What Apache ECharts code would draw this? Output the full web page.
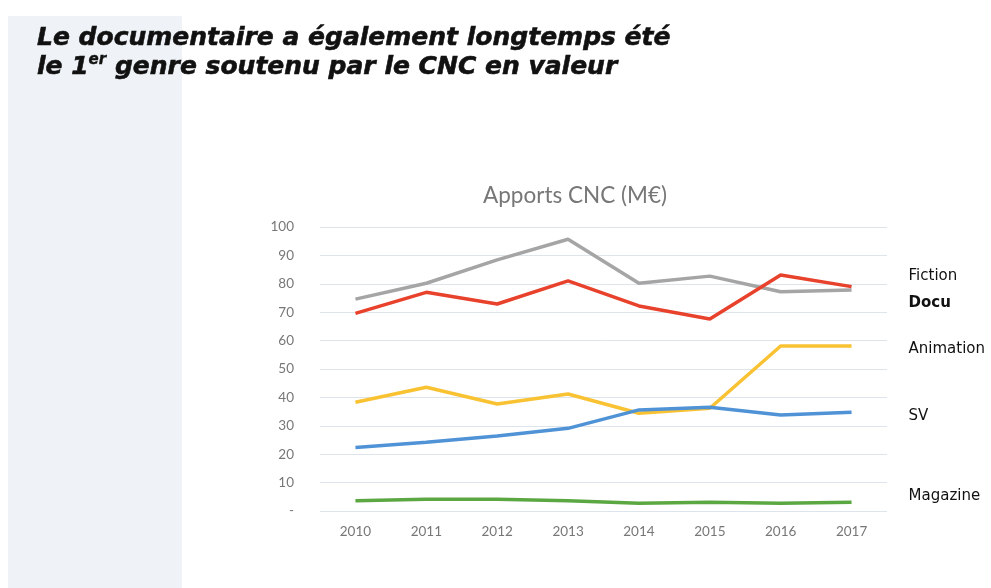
<!DOCTYPE html>
<html>
<head>
<meta charset="utf-8">
<script src="https://cdn.jsdelivr.net/npm/echarts@6/dist/echarts.min.js"></script>
<style>
html,body{margin:0;padding:0;background:#fff;}
#panel{position:absolute;left:8px;top:16px;width:174px;height:572px;background:#eff3f7;}
#chart{position:absolute;left:0;top:0;width:991px;height:588px;}
</style>
</head>
<body>
<div id="panel"></div>
<div id="chart"></div>
<script>
const years = ['2010','2011','2012','2013','2014','2015','2016','2017'];
const fiction   = [74.6, 80.2, 88.4, 95.7, 80.2, 82.7, 77.2, 77.8];
const docu      = [69.6, 77.0, 72.9, 81.0, 72.2, 67.6, 83.1, 79.0];
const animation = [38.3, 43.6, 37.7, 41.2, 34.4, 36.2, 58.1, 58.1];
const sv        = [22.4, 24.2, 26.4, 29.1, 35.6, 36.5, 33.8, 34.8];
const magazine  = [3.6, 4.1, 4.1, 3.6, 2.7, 3.1, 2.7, 3.1];
const yTicks = [0, 10, 20, 30, 40, 50, 60, 70, 80, 90, 100];

const chart = echarts.init(document.getElementById('chart'), null, {renderer: 'canvas'});

function mk(name, data, color, dy, bold) {
  return {
    name: name, type: 'line', data: data, showSymbol: false, symbol: 'none',
    lineStyle: {color: color, width: 3.5}, itemStyle: {color: color},
    z: name === 'Docu' ? 5 : 3,
    endLabel: {
      show: true, formatter: '{a}', distance: 0, offset: [57, dy],
      fontFamily: 'DejaVu Sans', fontSize: 15, color: '#111',
      fontWeight: bold ? 'bold' : 'normal', align: 'left'
    }
  };
}

chart.setOption({
  animation: false,
  backgroundColor: 'transparent',
  title: [
    {
      text: 'Le documentaire a également longtemps été\nle 1{sup|er} genre soutenu par le CNC en valeur',
      left: 32, top: 19,
      textStyle: {
        fontFamily: 'DejaVu Sans', fontSize: 25, fontWeight: 'bold', fontStyle: 'italic',
        color: '#111', lineHeight: 29, textBorderColor: '#111', textBorderWidth: 0.6,
        rich: {sup: {fontFamily: 'DejaVu Sans', fontSize: 15, fontWeight: 'bold', fontStyle: 'italic', color: '#111', textBorderColor: '#111', textBorderWidth: 0.4, verticalAlign: 'top', padding: [0, 0, 10, 0]}}
      }
    },
    {
      text: 'Apports CNC (M€)', left: 570, top: 179, textAlign: 'center',
      textStyle: {fontFamily: 'Lato', fontSize: 22.5, fontWeight: 'normal', color: '#777'}
    }
  ],
  grid: {left: 320, right: 104, top: 227, bottom: 77},
  xAxis: {
    type: 'category', data: years, boundaryGap: true,
    axisLine: {show: false}, axisTick: {show: false},
    axisLabel: {fontFamily: 'Lato', fontSize: 13.5, color: '#777', margin: 14}
  },
  yAxis: {
    type: 'value', min: 0, max: 100, interval: 10,
    axisLine: {show: false}, axisTick: {show: false},
    splitLine: {lineStyle: {color: '#dde4ec', width: 1}},
    axisLabel: {
      fontFamily: 'Lato', fontSize: 13.5, color: '#777', margin: 26,
      formatter: function (v) { return yTicks.indexOf(v) === 0 ? '-' : String(v); }
    }
  },
  series: [
    mk('Fiction', fiction, '#a5a5a5', -14, false),
    mk('Docu', docu, '#e8412c', 16, true),
    mk('Animation', animation, '#f9c233', 3, false),
    mk('SV', sv, '#4f93d6', 4, false),
    mk('Magazine', magazine, '#5ba843', -6, false)
  ]
});
</script>
</body>
</html>
